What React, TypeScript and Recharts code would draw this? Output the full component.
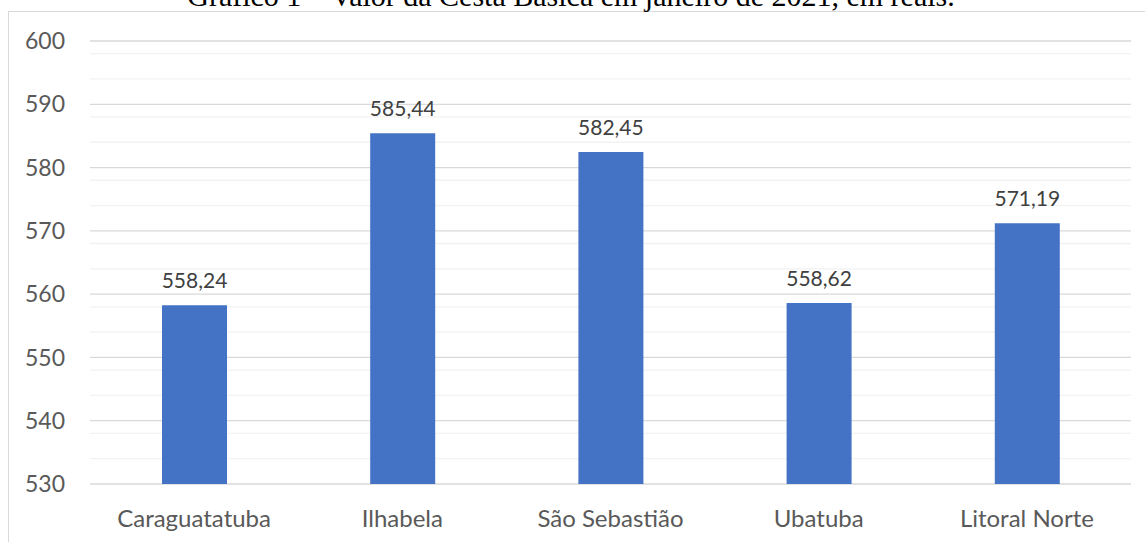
import { BarChart, Bar, XAxis, YAxis, CartesianGrid, LabelList } from 'recharts';

const cities = ['Caraguatatuba', 'Ilhabela', 'São Sebastião', 'Ubatuba', 'Litoral Norte'];
const prices = [558.24, 585.44, 582.45, 558.62, 571.19];
const majorTicks = [530, 540, 550, 560, 570, 580, 590, 600];
const minorTicks = [532, 534, 536, 538, 542, 544, 546, 548, 552, 554, 556, 558, 562, 564, 566, 568, 572, 574, 576, 578, 582, 584, 586, 588, 592, 594, 596, 598];

const data = cities.map((name, i) => ({ name, value: prices[i] }));

const FONT = 'Lato, "Open Sans", sans-serif';

const App = () => {
    return (
        <div style={{ position: 'fixed', left: 0, top: 0, width: 1145, height: 542, overflow: 'hidden', background: '#fff' }}>
            {/* chart frame */}
            <div style={{ position: 'absolute', left: 8, top: 11, width: 1160, height: 560, border: '1px solid #d9d9d9', boxSizing: 'border-box' }} />
            {/* title, partly cut off at the top as in the source */}
            <svg width={1145} height={20} style={{ position: 'absolute', left: 0, top: 0 }}>
                <text x={571} y={6} textAnchor="middle" fontFamily='"Liberation Serif", "Times New Roman", serif' fontSize={30} fill="#000">
                    Gráfico 1 – Valor da Cesta Básica em janeiro de 2021, em reais.
                </text>
            </svg>
            <div style={{ position: 'absolute', left: 0, top: 0 }}>
                <BarChart width={1145} height={542} data={data} margin={{ top: 41, right: 14, bottom: 28, left: 8 }}>
                    <CartesianGrid horizontalValues={minorTicks} vertical={false} stroke="#f2f2f2" strokeWidth={1.3} />
                    <CartesianGrid horizontalValues={majorTicks} vertical={false} stroke="#d9d9d9" strokeWidth={1.3} />
                    <XAxis dataKey="name" height={30} axisLine={false} tickLine={false} tickMargin={20}
                        tick={{ fill: '#595959', fontSize: 24, fontFamily: FONT }} />
                    <YAxis width={82} domain={[530, 600]} ticks={majorTicks} allowDataOverflow axisLine={false} tickLine={false}
                        tickMargin={19} tick={{ fill: '#595959', fontSize: 23, fontFamily: FONT }} />
                    <Bar dataKey="value" fill="#4472c4" barSize={65} isAnimationActive={false}>
                        <LabelList dataKey="value" position="top" offset={17}
                            formatter={(v: any) => Number(v).toFixed(2).replace('.', ',')}
                            style={{ fill: '#404040', fontSize: 21, fontFamily: FONT }} />
                    </Bar>
                </BarChart>
            </div>
        </div>
    );
};

export default App;
